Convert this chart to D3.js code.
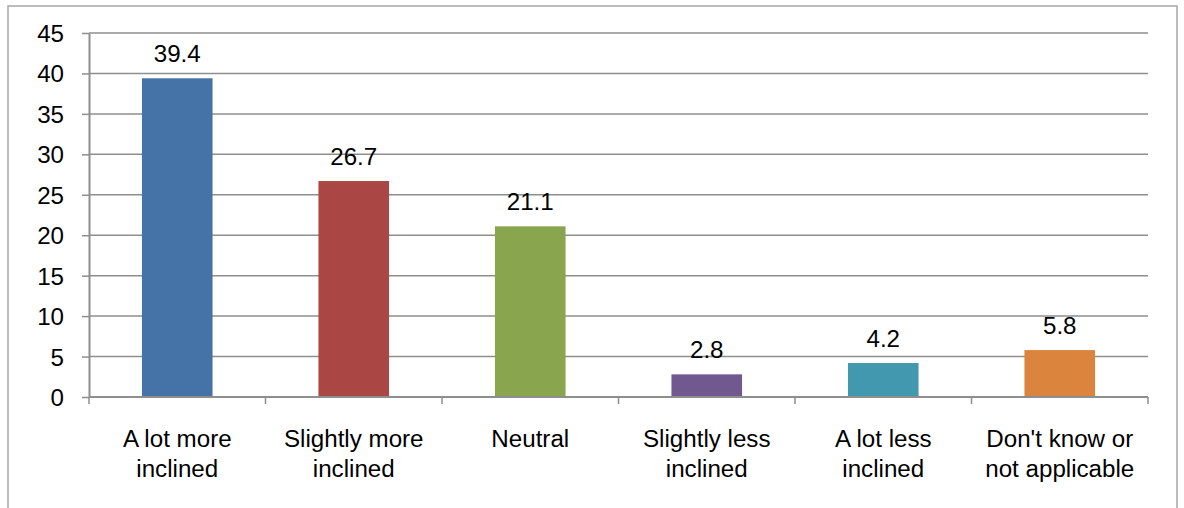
<!DOCTYPE html>
<html>
<head>
<meta charset="utf-8">
<script src="https://cdn.jsdelivr.net/npm/d3@7"></script>
<style>
  body { margin: 0; background: #fff; }
  text { font-family: "Liberation Sans", Arial, sans-serif; fill: #000; }
</style>
</head>
<body>
<svg></svg>
<script>
const CATEGORIES = [
    ['A lot more', 'inclined'],
    ['Slightly more', 'inclined'],
    ['Neutral'],
    ['Slightly less', 'inclined'],
    ['A lot less', 'inclined'],
    ["Don't know or", 'not applicable'],
];
const VALUES = [39.4, 26.7, 21.1, 2.8, 4.2, 5.8];
const COLORS = ['#4572a7', '#aa4643', '#89a54e', '#71588f', '#4198af', '#db843d'];
const Y_TICKS = [0, 5, 10, 15, 20, 25, 30, 35, 40, 45];

const WIDTH = 1184;
const HEIGHT = 508;
const PLOT = { left: 89, right: 1148, top: 33, bottom: 397 };
const FONT = '23px';
const STRETCH = 1.05; // text in the picture is a touch wide

const svg = d3.select('svg').attr('width', WIDTH).attr('height', HEIGHT);

// outer frame
svg.append('rect')
    .attr('x', 8).attr('y', 6)
    .attr('width', 1169).attr('height', 520)
    .attr('fill', 'none')
    .attr('stroke', '#a6a6a6')
    .attr('stroke-width', 1.5);

const idx = CATEGORIES.map((d, i) => i);
const x = d3.scaleBand().domain(idx).range([PLOT.left, PLOT.right]).padding(0);
const y = d3.scaleLinear().domain([0, 45]).range([PLOT.bottom, PLOT.top]);
const barW = x.bandwidth() * 0.4;

function wideText(sel, px, py) {
    sel.attr('transform', `translate(${px},${py}) scale(${STRETCH},1)`);
}

// gridlines
svg.append('g')
    .selectAll('line')
    .data(Y_TICKS.filter((t) => t > 0))
    .enter()
    .append('line')
    .attr('x1', PLOT.left).attr('x2', PLOT.right)
    .attr('y1', (d) => y(d)).attr('y2', (d) => y(d))
    .attr('stroke', '#8e8e8e')
    .attr('stroke-width', 1.5);

// y axis
const yAxis = svg.append('g')
    .attr('transform', `translate(${PLOT.left},0)`)
    .call(d3.axisLeft(y).tickValues(Y_TICKS).tickSize(7).tickSizeOuter(0).tickFormat(() => ''));
yAxis.select('.domain').attr('stroke', '#8e8e8e').attr('stroke-width', 2);
yAxis.selectAll('.tick line').attr('stroke', '#8e8e8e').attr('stroke-width', 1.5);

svg.append('g')
    .selectAll('text')
    .data(Y_TICKS)
    .enter()
    .append('text')
    .attr('text-anchor', 'end')
    .style('font-size', FONT)
    .text((d) => d)
    .each(function (d) { wideText(d3.select(this), 64, y(d) + 9); });

// bars
svg.append('g')
    .selectAll('rect')
    .data(VALUES)
    .enter()
    .append('rect')
    .attr('x', (d, i) => x(i) + x.bandwidth() / 2 - barW / 2)
    .attr('y', (d) => y(d))
    .attr('width', barW)
    .attr('height', (d) => y(0) - y(d))
    .attr('fill', (d, i) => COLORS[i]);

// value labels
svg.append('g')
    .selectAll('text')
    .data(VALUES)
    .enter()
    .append('text')
    .attr('text-anchor', 'middle')
    .style('font-size', FONT)
    .text((d) => d.toFixed(1))
    .each(function (d, i) { wideText(d3.select(this), x(i) + x.bandwidth() / 2, y(d) - 16); });

// x axis
const xAxis = svg.append('g').attr('transform', `translate(0,${PLOT.bottom})`);
xAxis.append('line')
    .attr('x1', PLOT.left).attr('x2', PLOT.right)
    .attr('stroke', '#8e8e8e').attr('stroke-width', 2);
xAxis.selectAll('.tk')
    .data(d3.range(CATEGORIES.length + 1))
    .enter()
    .append('line')
    .attr('class', 'tk')
    .attr('x1', (d) => PLOT.left + d * x.step())
    .attr('x2', (d) => PLOT.left + d * x.step())
    .attr('y1', 0).attr('y2', 7)
    .attr('stroke', '#8e8e8e').attr('stroke-width', 1.5);

// category labels
const cat = svg.append('g')
    .selectAll('text')
    .data(CATEGORIES)
    .enter()
    .append('text')
    .attr('text-anchor', 'middle')
    .style('font-size', FONT)
    .each(function (d, i) { wideText(d3.select(this), x(i) + x.bandwidth() / 2, 447); });
cat.selectAll('tspan')
    .data((d) => d)
    .enter()
    .append('tspan')
    .attr('x', 0)
    .attr('dy', (d, j) => (j === 0 ? 0 : 30))
    .text((d) => d);
</script>
</body>
</html>
